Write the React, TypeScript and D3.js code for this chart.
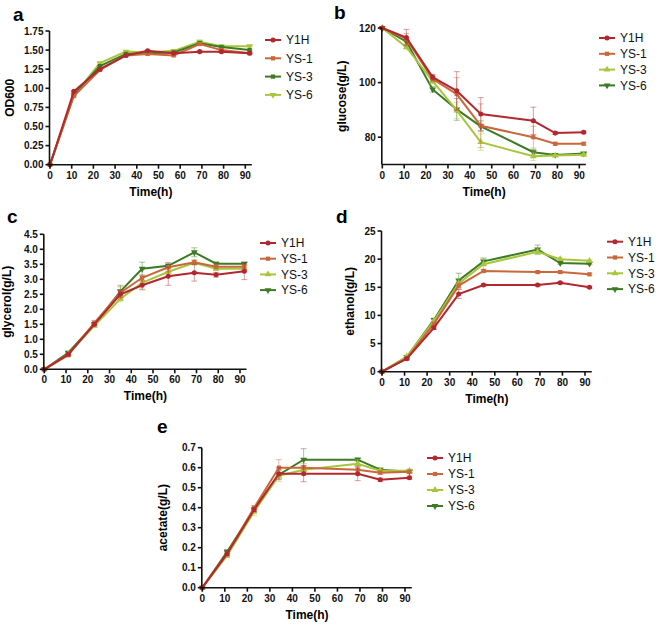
import React from 'react';
import * as d3 from 'd3';

const seriesNames = ['Y1H', 'YS-1', 'YS-3', 'YS-6'];
const timesFull = [0, 11, 23, 35, 45, 57, 69, 79, 92];
const timesShort = [0, 11, 23, 34, 45, 69, 79, 92];
const xTicks = [0, 10, 20, 30, 40, 50, 60, 70, 80, 90];

// a: OD600
const od600Values = [
  [0, 0.96, 1.25, 1.43, 1.49, 1.46, 1.48, 1.48, 1.46],
  [0, 0.9, 1.24, 1.43, 1.45, 1.43, 1.58, 1.5, 1.46],
  [0, 0.92, 1.29, 1.45, 1.46, 1.47, 1.59, 1.54, 1.5],
  [0, 0.91, 1.33, 1.48, 1.47, 1.49, 1.61, 1.55, 1.55],
];
const od600Errors = [
  [0, 0.01, 0.01, 0.01, 0.01, 0.01, 0.01, 0.01, 0.01],
  [0, 0.01, 0.01, 0.01, 0.01, 0.01, 0.02, 0.01, 0.01],
  [0, 0.01, 0.01, 0.01, 0.01, 0.01, 0.02, 0.01, 0.01],
  [0, 0.01, 0.01, 0.01, 0.01, 0.01, 0.02, 0.01, 0.01],
];

// b: glucose
const glucoseValues = [
  [120, 116.5, 102, 97, 88.5, 86, 81.5, 81.8],
  [120, 116, 101.3, 95.8, 84.2, 80, 77.6, 77.6],
  [120, 113, 100.5, 89.8, 78.2, 73, 73.3, 73.6],
  [120, 115, 97.5, 90.2, 84, 74.5, 73.5, 74],
];
const glucoseErrors = [
  [0, 3, 1, 7, 6, 5, 0.5, 0.5],
  [0, 2, 1, 6, 8, 4, 0.5, 0.5],
  [0, 1, 1, 3, 3, 1.5, 0.3, 0.3],
  [0, 1, 1, 4, 2, 1, 0.3, 0.3],
];

// c: glycerol
const glycerolValues = [
  [0, 0.5, 1.5, 2.5, 2.8, 3.1, 3.22, 3.15, 3.27],
  [0, 0.47, 1.55, 2.55, 3.05, 3.4, 3.57, 3.42, 3.42],
  [0, 0.5, 1.45, 2.35, 2.88, 3.25, 3.55, 3.35, 3.35],
  [0, 0.55, 1.5, 2.6, 3.35, 3.45, 3.9, 3.52, 3.52],
];
const glycerolErrors = [
  [0, 0.05, 0.05, 0.1, 0.15, 0.3, 0.28, 0.08, 0.28],
  [0, 0.05, 0.08, 0.2, 0.1, 0.15, 0.08, 0.08, 0.08],
  [0, 0.05, 0.05, 0.1, 0.2, 0.1, 0.08, 0.05, 0.05],
  [0, 0.05, 0.05, 0.2, 0.22, 0.1, 0.15, 0.05, 0.05],
];

// d: ethanol
const ethanolValues = [
  [0, 2.3, 7.8, 13.8, 15.4, 15.4, 15.8, 15.0],
  [0, 2.4, 8.5, 15.3, 17.9, 17.7, 17.7, 17.3],
  [0, 2.7, 9.0, 15.7, 19.1, 21.3, 20.0, 19.7],
  [0, 2.6, 9.2, 16.2, 19.6, 21.7, 19.3, 19.2],
];
const ethanolErrors = [
  [0, 0.2, 0.3, 0.8, 0.2, 0.2, 0.2, 0.2],
  [0, 0.2, 0.3, 0.6, 0.3, 0.2, 0.2, 0.2],
  [0, 0.2, 0.3, 0.8, 1.0, 0.5, 0.2, 0.2],
  [0, 0.2, 0.3, 1.3, 0.6, 0.8, 0.2, 0.2],
];

// e: acetate
const acetateValues = [
  [0, 0.17, 0.39, 0.57, 0.57, 0.57, 0.54, 0.55],
  [0, 0.17, 0.4, 0.6, 0.6, 0.59, 0.575, 0.58],
  [0, 0.16, 0.38, 0.56, 0.59, 0.62, 0.585, 0.585],
  [0, 0.18, 0.39, 0.565, 0.64, 0.64, 0.59, 0.58],
];
const acetateErrors = [
  [0, 0.01, 0.01, 0.03, 0.04, 0.035, 0.008, 0.008],
  [0, 0.01, 0.01, 0.04, 0.02, 0.02, 0.008, 0.008],
  [0, 0.01, 0.02, 0.03, 0.02, 0.02, 0.008, 0.008],
  [0, 0.01, 0.01, 0.02, 0.055, 0.01, 0.008, 0.008],
];

const RED = '#b2282e';
const ORANGE = '#c8683c';
const LIGHT = '#a8c63c';
const DARK = '#3c7a24';

const FONT = '"Liberation Sans", Arial, Helvetica, sans-serif';

type Shape = 'circle' | 'square' | 'up' | 'down';

interface PanelCfg {
  letter: string;
  letterX: number;
  letterY: number;
  yLabel: string;
  yLabelX: number;
  times: number[];
  values: number[][];
  errors: number[][];
  colors: string[];
  shapes: Shape[];
  yDomain: [number, number];
  yTicks: number[];
  yFormat: string;
  x0: number;
  x90: number;
  yBottom: number;
  yTop: number;
  legendX: number;
  legendY: number;
  legendStep: number;
}

const panels: PanelCfg[] = [
  {
    letter: 'a', letterX: 13, letterY: 21, yLabel: 'OD600', yLabelX: 14,
    times: timesFull, values: od600Values, errors: od600Errors,
    colors: [RED, ORANGE, DARK, LIGHT], shapes: ['circle', 'square', 'square', 'down'],
    yDomain: [0, 1.75], yTicks: d3.range(0, 1.76, 0.25), yFormat: '.2f',
    x0: 50, x90: 245.3, yBottom: 164.7, yTop: 31,
    legendX: 265, legendY: 40, legendStep: 18.3,
  },
  {
    letter: 'b', letterX: 334, letterY: 19, yLabel: 'glucose(g/L)', yLabelX: 346,
    times: timesShort, values: glucoseValues, errors: glucoseErrors,
    colors: [RED, ORANGE, LIGHT, DARK], shapes: ['circle', 'square', 'up', 'down'],
    yDomain: [70, 120], yTicks: [80, 100, 120], yFormat: 'd',
    x0: 382.3, x90: 579.3, yBottom: 164.5, yTop: 28,
    legendX: 599, legendY: 38, legendStep: 15.8,
  },
  {
    letter: 'c', letterX: 7, letterY: 223, yLabel: 'glycerol(g/L)', yLabelX: 11,
    times: timesFull, values: glycerolValues, errors: glycerolErrors,
    colors: [RED, ORANGE, LIGHT, DARK], shapes: ['circle', 'square', 'up', 'down'],
    yDomain: [0, 4.5], yTicks: d3.range(0, 4.51, 0.5), yFormat: '.1f',
    x0: 44.3, x90: 240, yBottom: 369.3, yTop: 234.3,
    legendX: 260, legendY: 243, legendStep: 15.7,
  },
  {
    letter: 'd', letterX: 336, letterY: 223, yLabel: 'ethanol(g/L)', yLabelX: 354,
    times: timesShort, values: ethanolValues, errors: ethanolErrors,
    colors: [RED, ORANGE, LIGHT, DARK], shapes: ['circle', 'square', 'up', 'down'],
    yDomain: [0, 25], yTicks: [0, 5, 10, 15, 20, 25], yFormat: 'd',
    x0: 382, x90: 585, yBottom: 371.7, yTop: 231,
    legendX: 607, legendY: 241.7, legendStep: 15.8,
  },
  {
    letter: 'e', letterX: 157, letterY: 433, yLabel: 'acetate(g/L)', yLabelX: 167,
    times: timesShort, values: acetateValues, errors: acetateErrors,
    colors: [RED, ORANGE, LIGHT, DARK], shapes: ['circle', 'square', 'up', 'down'],
    yDomain: [0, 0.7], yTicks: d3.range(0, 0.71, 0.1), yFormat: '.1f',
    x0: 202.3, x90: 405, yBottom: 587.7, yTop: 447.7,
    legendX: 427, legendY: 458, legendStep: 16,
  },
];

function markerPath(shape: Shape): string {
  const type =
    shape === 'circle' ? d3.symbolCircle :
    shape === 'square' ? d3.symbolSquare : d3.symbolTriangle;
  const size = shape === 'circle' ? 20 : shape === 'square' ? 18 : 20;
  return d3.symbol().type(type).size(size)() || '';
}

const Marker = ({ x, y, shape, color }: { x: number; y: number; shape: Shape; color: string }) => (
  <path
    d={markerPath(shape)}
    transform={`translate(${x},${y})${shape === 'down' ? ' rotate(180)' : ''}`}
    fill={color}
  />
);

const Panel = ({ cfg }: { cfg: PanelCfg }) => {
  const xEnd = cfg.x0 + ((cfg.x90 - cfg.x0) * 93) / 90;
  const x = d3.scaleLinear().domain([0, 93]).range([cfg.x0, xEnd]);
  const y = d3.scaleLinear().domain(cfg.yDomain).range([cfg.yBottom, cfg.yTop]);
  const fmt = d3.format(cfg.yFormat);
  const line = d3.line<number>()
    .x((_, i) => x(cfg.times[i]))
    .y(d => y(d));
  const order = [3, 2, 1, 0];
  const axisLeft = x(0) - 0.5;

  return (
    <g>
      <text x={cfg.letterX} y={cfg.letterY} fontFamily={FONT} fontWeight="bold" fontSize={19}>
        {cfg.letter}
      </text>

      {/* series, Y1H drawn last */}
      {order.map(si => (
        <g key={si}>
          {cfg.values[si].map((v, i) => {
            const e = cfg.errors[si][i];
            if (!e) return null;
            const cx = x(cfg.times[i]);
            return (
              <g key={i} stroke={cfg.colors[si]} strokeOpacity={0.45} strokeWidth={1}>
                <line x1={cx} x2={cx} y1={y(v - e)} y2={y(v + e)} />
                <line x1={cx - 3} x2={cx + 3} y1={y(v - e)} y2={y(v - e)} />
                <line x1={cx - 3} x2={cx + 3} y1={y(v + e)} y2={y(v + e)} />
              </g>
            );
          })}
          <path d={line(cfg.values[si]) || ''} fill="none" stroke={cfg.colors[si]} strokeWidth={2} />
          {cfg.values[si].map((v, i) => (
            <Marker key={i} x={x(cfg.times[i])} y={y(v)} shape={cfg.shapes[si]} color={cfg.colors[si]} />
          ))}
        </g>
      ))}

      {/* axes */}
      <g stroke="#111" strokeWidth={1.6} fill="none">
        <line x1={axisLeft} x2={axisLeft} y1={cfg.yTop} y2={cfg.yBottom} />
        <line x1={axisLeft} x2={xEnd} y1={cfg.yBottom} y2={cfg.yBottom} />
        {cfg.yTicks.map(t => (
          <line key={'y' + t} x1={axisLeft - 4} x2={axisLeft} y1={y(t)} y2={y(t)} />
        ))}
        {xTicks.map(t => (
          <line key={'x' + t} x1={x(t)} x2={x(t)} y1={cfg.yBottom} y2={cfg.yBottom + 4} />
        ))}
      </g>
      <g fontFamily={FONT} fontWeight="bold" fontSize={10} fill="#111">
        {cfg.yTicks.map(t => (
          <text key={'yl' + t} x={axisLeft - 6} y={y(t)} dy="0.35em" textAnchor="end">
            {fmt(t)}
          </text>
        ))}
        {xTicks.map(t => (
          <text key={'xl' + t} x={x(t)} y={cfg.yBottom + 14} textAnchor="middle">
            {t}
          </text>
        ))}
      </g>
      <text
        x={(cfg.x0 + xEnd) / 2}
        y={cfg.yBottom + 31}
        textAnchor="middle"
        fontFamily={FONT}
        fontWeight="bold"
        fontSize={12}
      >
        Time(h)
      </text>
      <text
        transform={`translate(${cfg.yLabelX},${(cfg.yTop + cfg.yBottom) / 2}) rotate(-90)`}
        textAnchor="middle"
        fontFamily={FONT}
        fontWeight="bold"
        fontSize={12}
      >
        {cfg.yLabel}
      </text>

      {/* legend */}
      {seriesNames.map((name, si) => {
        const ly = cfg.legendY + si * cfg.legendStep;
        return (
          <g key={name}>
            <line x1={cfg.legendX} x2={cfg.legendX + 16} y1={ly} y2={ly} stroke={cfg.colors[si]} strokeWidth={2} />
            <Marker x={cfg.legendX + 8} y={ly} shape={cfg.shapes[si]} color={cfg.colors[si]} />
            <text x={cfg.legendX + 21} y={ly} dy="0.35em" fontFamily={FONT} fontSize={12} fill="#111">
              {name}
            </text>
          </g>
        );
      })}
    </g>
  );
};

export default function App() {
  return (
    <svg
      width={659}
      height={625}
      style={{ position: 'absolute', left: 0, top: 0, background: '#fff' }}
    >
      <rect width={659} height={625} fill="#fff" />
      {panels.map(p => (
        <Panel key={p.letter} cfg={p} />
      ))}
    </svg>
  );
}
